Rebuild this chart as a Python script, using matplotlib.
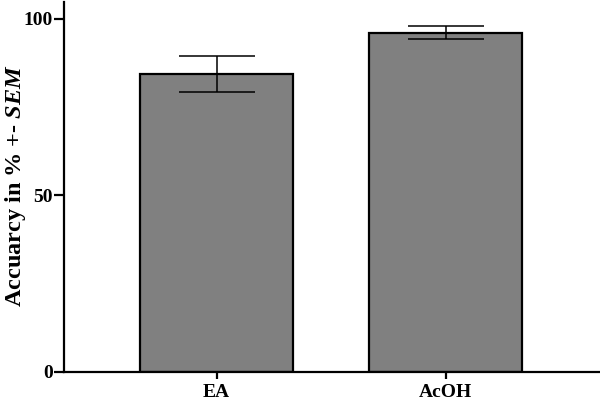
import matplotlib
matplotlib.use("Agg")
import matplotlib.pyplot as plt
import numpy as np

groups = ["EA", "AcOH"]
accuracy = [84.3, 96.1]
sem = [5.1, 1.8]

plt.rcParams['font.family'] = 'Liberation Serif'
plt.rcParams['font.weight'] = 'bold'
plt.rcParams['mathtext.fontset'] = 'custom'
plt.rcParams['mathtext.rm'] = 'Liberation Serif:bold'
plt.rcParams['mathtext.it'] = 'Liberation Serif:italic:bold'
plt.rcParams['mathtext.bfit'] = 'Liberation Serif:italic:bold'

fig = plt.figure(figsize=(6, 4.05), dpi=100)
ax = fig.add_axes([0.107, 0.082, 0.893, 0.913])

x = np.arange(len(groups))
ax.bar(x, accuracy, width=0.67, color='#808080', edgecolor='black', linewidth=1.6, zorder=2)
ax.errorbar(x, accuracy, yerr=sem, fmt='none', ecolor='black', elinewidth=1.1,
            capsize=27.5, capthick=1.1, zorder=3)

ax.set_xlim(-0.666, 1.675)
ax.set_ylim(0, 104.8)
ax.set_yticks([0, 50, 100])
ax.set_xticks(x)
ax.set_xticklabels(groups)
# y label placed by hand so it stays inside the figure
fig.text(16 / 600, 1 - 186 / 405, r'Accuarcy in % +- $\mathit{SEM}$', fontsize=17.5,
         fontweight='bold', rotation=90, ha='center', va='center')

for s in ['top', 'right']:
    ax.spines[s].set_visible(False)
for s in ['left', 'bottom']:
    ax.spines[s].set_linewidth(1.6)
ax.tick_params(axis='y', length=7, width=1.6, labelsize=14, pad=1)
ax.tick_params(axis='x', length=5, width=1.6, labelsize=14, pad=4)

fig.savefig("out.png", dpi=100)
